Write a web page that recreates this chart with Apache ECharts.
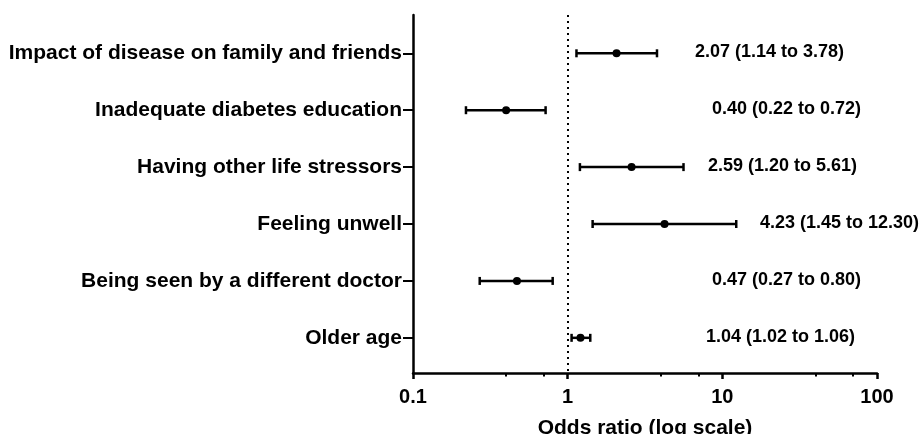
<!DOCTYPE html>
<html>
<head>
<meta charset="utf-8">
<script src="https://cdn.jsdelivr.net/npm/echarts@6/dist/echarts.min.js"></script>
<style>
  html, body { margin: 0; padding: 0; background: #ffffff; }
  #chart { width: 922px; height: 434px; }
</style>
</head>
<body>
<div id="chart"></div>
<script>
// ---- data ----
const categories = [
  'Impact of disease on family and friends',
  'Inadequate diabetes education',
  'Having other life stressors',
  'Feeling unwell',
  'Being seen by a different doctor',
  'Older age'
];
const oddsRatio = [2.07, 0.40, 2.59, 4.23, 0.47, 1.21];
const ciLower   = [1.14, 0.22, 1.20, 1.45, 0.27, 1.06];
const ciUpper   = [3.78, 0.72, 5.61, 12.30, 0.80, 1.40];
const ciText = [
  '2.07 (1.14 to 3.78)',
  '0.40 (0.22 to 0.72)',
  '2.59 (1.20 to 5.61)',
  '4.23 (1.45 to 12.30)',
  '0.47 (0.27 to 0.80)',
  '1.04 (1.02 to 1.06)'
];
const xTickValues = [0.1, 1, 10, 100];
const xTickLabels = ['0.1', '1', '10', '100'];
const xMinorTicks = [0.4, 0.7, 4, 7, 40, 70];
const referenceValue = 1;

// ---- style-only settings ----
const FONT = '"Liberation Sans", Arial, Helvetica, sans-serif';
const labelLeftPx = [695, 712, 708, 760, 712, 706]; // text start x (px) per row

const rowIndex = categories.map((_, i) => i);
const seriesData = categories.map((c, i) => [i, oddsRatio[i], ciLower[i], ciUpper[i]]);

const chart = echarts.init(document.getElementById('chart'), null, { renderer: 'canvas' });

const option = {
  backgroundColor: '#ffffff',
  animation: false,
  grid: {
    left: 413, right: 45, top: 15, bottom: 61,
    containLabel: false,
    outerBoundsMode: 'none'
  },
  xAxis: [
    {
      type: 'log',
      logBase: 10,
      min: 0.1,
      max: 100,
      position: 'bottom',
      name: 'Odds ratio (log scale)',
      nameLocation: 'middle',
      nameGap: 45,
      nameTextStyle: { color: '#000', fontSize: 21, fontWeight: 'bold', fontFamily: FONT },
      axisLine: { show: true, onZero: false, lineStyle: { color: '#000', width: 2.5 } },
      axisTick: { show: true, length: 6, lineStyle: { color: '#000', width: 2.5 }, customValues: xTickValues },
      axisLabel: {
        color: '#000', fontSize: 20, fontWeight: 'bold', fontFamily: FONT, margin: 14,
        customValues: xTickValues,
        formatter: (v) => {
          const k = xTickValues.findIndex(t => Math.abs(Math.log10(t) - Math.log10(v)) < 1e-6);
          return k >= 0 ? xTickLabels[k] : '';
        }
      },
      splitLine: { show: false }
    },
    {
      type: 'log',
      logBase: 10,
      min: 0.1,
      max: 100,
      position: 'bottom',
      gridIndex: 0,
      axisLine: { show: false, onZero: false },
      axisTick: { show: true, length: 3.5, lineStyle: { color: '#000', width: 2 }, customValues: xMinorTicks },
      axisLabel: { show: false },
      splitLine: { show: false }
    }
  ],
  yAxis: {
    type: 'value',
    inverse: true,
    min: -0.673,
    max: 5.618,
    axisLine: { show: true, onZero: false, lineStyle: { color: '#000', width: 2.5 } },
    axisTick: { show: true, inside: false, length: 10, lineStyle: { color: '#000', width: 2 }, customValues: rowIndex },
    axisLabel: {
      color: '#000', fontSize: 21, fontWeight: 'bold', fontFamily: FONT, margin: 11,
      customValues: rowIndex,
      formatter: (v) => categories[Math.round(v)] || ''
    },
    splitLine: { show: false }
  },
  series: [
    {
      type: 'custom',
      xAxisIndex: 0,
      data: seriesData,
      encode: { x: [1, 2, 3], y: 0 },
      clip: false,
      renderItem: (params, api) => {
        const i = api.value(0);
        const p = api.coord([api.value(1), i]);
        const l = api.coord([api.value(2), i]);
        const h = api.coord([api.value(3), i]);
        const cap = 4;
        const stroke = { stroke: '#000', lineWidth: 2.5 };
        return {
          type: 'group',
          children: [
            { type: 'line', shape: { x1: l[0], y1: l[1], x2: h[0], y2: h[1] }, style: stroke },
            { type: 'line', shape: { x1: l[0], y1: l[1] - cap, x2: l[0], y2: l[1] + cap }, style: stroke },
            { type: 'line', shape: { x1: h[0], y1: h[1] - cap, x2: h[0], y2: h[1] + cap }, style: stroke },
            { type: 'circle', shape: { cx: p[0], cy: p[1], r: 4 }, style: { fill: '#000' } },
            {
              type: 'text',
              style: {
                text: ciText[i],
                x: labelLeftPx[i],
                y: p[1] - 1,
                fill: '#000',
                fontSize: 18,
                fontWeight: 'bold',
                fontFamily: FONT,
                align: 'left',
                verticalAlign: 'middle'
              }
            }
          ]
        };
      },
      markLine: {
        silent: true,
        symbol: ['none', 'none'],
        label: { show: false },
        lineStyle: { color: '#000', width: 2, type: [2, 4] },
        data: [{ xAxis: referenceValue }]
      },
      z: 3
    }
  ]
};

chart.setOption(option);
</script>
</body>
</html>
